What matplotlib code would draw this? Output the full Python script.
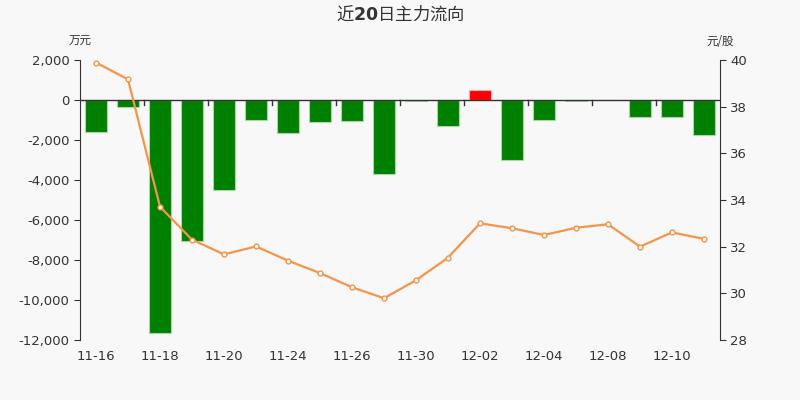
import matplotlib
matplotlib.use("Agg")
import matplotlib.pyplot as plt
from matplotlib.ticker import FuncFormatter

plt.rcParams['font.family'] = ['DejaVu Sans', 'Noto Sans CJK SC']

# data
dates = ['11-16', '11-17', '11-18', '11-19', '11-20', '11-23', '11-24', '11-25', '11-26', '11-27',
         '11-30', '12-01', '12-02', '12-03', '12-04', '12-07', '12-08', '12-09', '12-10', '12-11']
flow = [-1580, -330, -11650, -7030, -4480, -1000, -1630, -1120, -1070, -3700,
        -50, -1300, 500, -3020, -1000, -50, -20, -830, -870, -1730]   # 万元
price = [39.89, 39.17, 33.71, 32.30, 31.67, 32.01, 31.40, 30.87, 30.26, 29.79,
         30.56, 31.53, 33.00, 32.79, 32.50, 32.81, 32.96, 32.00, 32.61, 32.33]   # 元/股

bg = '#f8f8f8'
axcol = '#333333'
fig = plt.figure(figsize=(8, 4), dpi=100, facecolor=bg)
ax = fig.add_axes([0.1, 0.15, 0.8, 0.70])
ax.set_facecolor(bg)

x = list(range(len(dates)))
colors = ['#ff0000' if v > 0 else '#008000' for v in flow]
edges = ['#ffb0b0' if v > 0 else '#a8d8a8' for v in flow]
ax.bar(x, flow, width=0.69, color=colors, edgecolor=edges, linewidth=0.8, zorder=2)

ax.set_xlim(-0.5, len(dates) - 0.5)
ax.set_ylim(-12000, 2000)
ax.set_yticks(range(-12000, 2001, 2000))
ax.yaxis.set_major_formatter(FuncFormatter(lambda v, p: f'{int(v):,}'))

# zero line acts as the x axis, ticks every two categories
ax.axhline(0, color=axcol, lw=1, zorder=3)
for k in range(2, 20, 2):
    ax.plot([k - 0.5, k - 0.5], [0, -250], color=axcol, lw=1, zorder=3, clip_on=False)

ax.set_xticks(x[::2])
ax.set_xticklabels(dates[::2])
ax.tick_params(axis='x', length=0, pad=7, labelsize=9.5, colors=axcol)
ax.tick_params(axis='y', length=4, labelsize=9.5, colors=axcol, direction='out')
for s in ['top', 'right', 'bottom']:
    ax.spines[s].set_visible(False)
ax.spines['left'].set_color(axcol)

ax2 = ax.twinx()
ax2.plot(x, price, color='#f5944a', lw=1.6, marker='o', ms=3.5,
         mfc='white', mec='#f5944a', mew=1, zorder=4)
ax2.set_ylim(28, 40)
ax2.set_yticks(range(28, 41, 2))
ax2.tick_params(axis='y', length=4, labelsize=9.5, colors=axcol)
for s in ['top', 'left', 'bottom']:
    ax2.spines[s].set_visible(False)
ax2.spines['right'].set_color(axcol)

fig.text(0.1, 0.897, '万元', ha='center', va='center', fontsize=8.3,
         color=axcol, family=['Noto Sans CJK SC'])
fig.text(0.9, 0.897, '元/股', ha='center', va='center', fontsize=8.3,
         color=axcol, family=['Noto Sans CJK SC', 'DejaVu Sans'])
fig.text(0.5, 0.965, '近$\\mathbf{20}$日主力流向', ha='center', va='center', fontsize=12.5,
         color=axcol, family=['Noto Sans CJK SC', 'DejaVu Sans'])

fig.savefig('out.png', dpi=100, facecolor=bg)
